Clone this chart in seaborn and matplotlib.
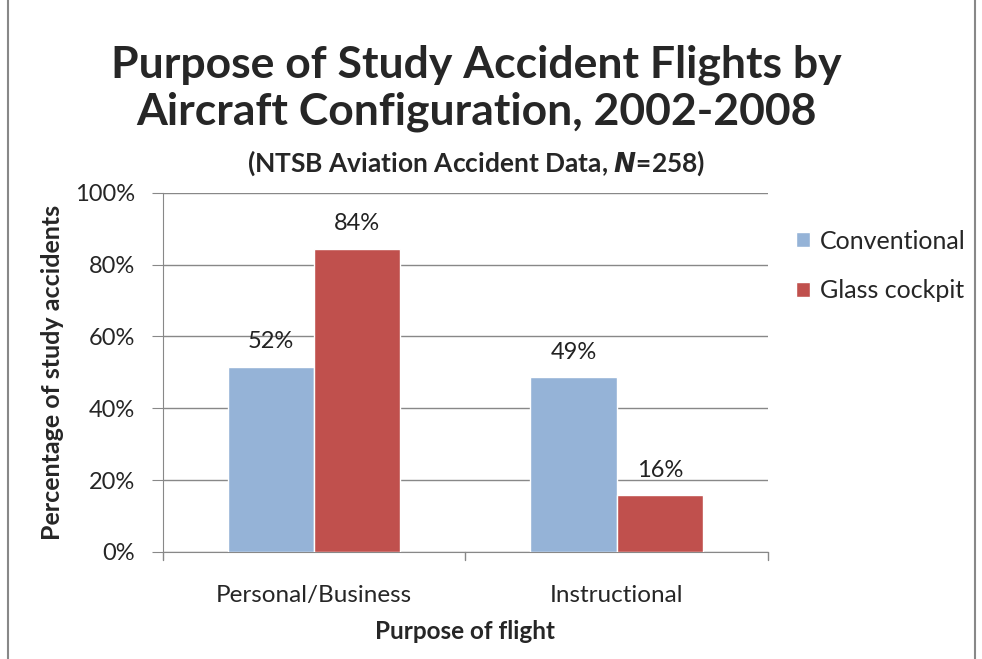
import pandas as pd
import matplotlib.pyplot as plt
import seaborn as sns
from matplotlib.patches import Rectangle

# values
purposes = ['Personal/Business', 'Instructional']
configs = ['Conventional', 'Glass cockpit']
conventional = [51.6, 48.7]
glass_cockpit = [84.4, 15.8]
colors = ['#95B3D7', '#C0504D']

df = pd.DataFrame({
    'Purpose': purposes * 2,
    'Config': [configs[0]] * 2 + [configs[1]] * 2,
    'Pct': conventional + glass_cockpit,
})

sns.set_style('white')
plt.rcParams['font.family'] = ['Lato', 'DejaVu Sans']

fig = plt.figure(figsize=(9.82, 6.59), dpi=100)
ax = fig.add_axes([0.166, 0.1624, 0.616, 0.545])

sns.barplot(data=df, x='Purpose', y='Pct', hue='Config', palette=colors,
            width=0.57, saturation=1, ax=ax, zorder=3)

# data labels above each bar
for cont in ax.containers:
    for bar in cont:
        h = bar.get_height()
        ax.text(bar.get_x() + bar.get_width() / 2, h + 4, f'{h:.0f}%',
                ha='center', va='bottom', fontsize=17, color='#222222')

ax.set_ylim(0, 100)
ax.set_xlim(-0.5, 1.5)
ax.set_yticks(range(0, 101, 20))
ax.set_yticklabels([f'{v}%' for v in range(0, 101, 20)], fontsize=17)
ax.tick_params(axis='x', labelsize=17.5, length=0, pad=24)
ax.tick_params(axis='y', length=8, color='#888888', direction='out', left=True, pad=12)
ax.yaxis.grid(True, color='#888888', lw=1)
ax.set_axisbelow(True)

# category separator ticks on x axis
for xb in [-0.5, 0.5, 1.5]:
    ax.plot([xb, xb], [0, -2.3], color='#888888', lw=1, clip_on=False)

for s in ['top', 'right']:
    ax.spines[s].set_visible(False)
for s in ['left', 'bottom']:
    ax.spines[s].set_color('#888888')

ax.set_xlabel('Purpose of flight', fontsize=17.5, fontweight='bold', labelpad=10)
ax.set_ylabel('Percentage of study accidents', fontsize=18, fontweight='bold', labelpad=8)

ax.legend(loc='upper left', bbox_to_anchor=(1.01, 0.96), frameon=False,
          fontsize=18, handlelength=0.55, handleheight=0.55, handletextpad=0.4,
          labelspacing=1.05)

fig.text(0.485, 0.866, 'Purpose of Study Accident Flights by\nAircraft Configuration, 2002-2008',
         ha='center', va='center', fontsize=32, fontweight='bold', linespacing=1.2)
fig.text(0.485, 0.752, r'(NTSB Aviation Accident Data, $\mathbfit{N}$=258)',
         ha='center', va='center', fontsize=19, fontweight='bold')

# outer chart border
fig.patches.append(Rectangle((0.008, -0.01), 0.985, 1.02, transform=fig.transFigure,
                             fill=False, edgecolor='#888888', lw=1.5))

fig.savefig('out.png', dpi=100)
